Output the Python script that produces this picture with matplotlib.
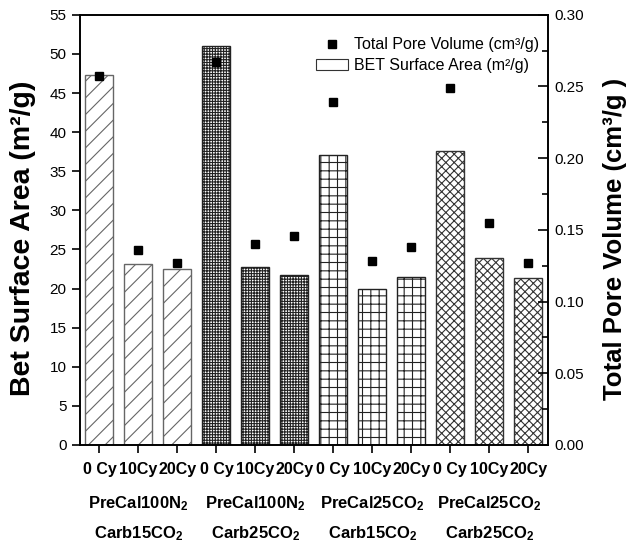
#!/usr/bin/env python3

import matplotlib
matplotlib.use("Agg")
import matplotlib.pyplot as plt
from matplotlib.patches import Patch
from matplotlib.lines import Line2D

plt.rcParams['font.family'] = ['Liberation Sans', 'DejaVu Sans']
plt.rcParams['mathtext.fontset'] = 'custom'
plt.rcParams['mathtext.rm'] = 'Liberation Sans:bold'
plt.rcParams['mathtext.bf'] = 'Liberation Sans:bold'
plt.rcParams['mathtext.default'] = 'rm'
plt.rcParams['hatch.linewidth'] = 0.8

cycles = ["0 Cy", "10Cy", "20Cy"] * 4
groups_top = ["PreCal100N$_2$", "PreCal100N$_2$", "PreCal25CO$_2$", "PreCal25CO$_2$"]
groups_bottom = ["Carb15CO$_2$", "Carb25CO$_2$", "Carb15CO$_2$", "Carb25CO$_2$"]

bet_area = [47.3, 23.1, 22.5, 51.0, 22.8, 21.7, 37.1, 20.0, 21.5, 37.6, 23.9, 21.3]
pore_vol = [0.257, 0.136, 0.127, 0.267, 0.140, 0.146, 0.239, 0.128, 0.138, 0.249, 0.155, 0.127]

hatches = ['//', '++++++', '++', 'xxxx']
edges = ['#666666', '#222222', '#222222', '#333333']

fig = plt.figure(figsize=(6.29, 5.48), dpi=100)
ax = fig.add_axes([0.127, 0.188, 0.744, 0.785])
ax2 = ax.twinx()

xs = list(range(1, len(bet_area) + 1))
for i, (x, v) in enumerate(zip(xs, bet_area)):
    g = i // 3
    ax.bar(x, v, width=0.72, facecolor='white', edgecolor=edges[g],
           hatch=hatches[g], linewidth=1.0)

ax2.plot(xs, pore_vol, 's', color='black', ms=6, linestyle='none')

ax.set_xlim(0.5, 12.5)
ax.set_ylim(0, 55)
ax2.set_ylim(0, 0.30)

ax.set_yticks(range(0, 56, 5))
ax.tick_params(axis='y', direction='out', length=6, width=1.2, labelsize=11)
ax.set_xticks(xs)
ax.set_xticklabels(cycles, fontweight='bold', fontsize=11.5)
ax.tick_params(axis='x', direction='out', length=6, width=1.2, pad=6)

ax2.set_yticks([0.00, 0.05, 0.10, 0.15, 0.20, 0.25, 0.30])
ax2.set_yticklabels(['0.00', '0.05', '0.10', '0.15', '0.20', '0.25', '0.30'])
ax2.set_yticks([0.025, 0.075, 0.125, 0.175, 0.225, 0.275], minor=True)
ax2.tick_params(axis='y', which='major', direction='in', length=7, width=1.2, labelsize=11, pad=5)
ax2.tick_params(axis='y', which='minor', direction='in', length=4, width=1.2)

for a in (ax, ax2):
    for s in a.spines.values():
        s.set_linewidth(1.2)

ax.set_ylabel("Bet Surface Area (m²/g)", fontsize=20.5, fontweight='bold')
ax.yaxis.set_label_coords(-0.094, 0.48)
ax2.set_ylabel("Total Pore Volume (cm³/g )", fontsize=18.5, fontweight='bold')
ax2.yaxis.set_label_coords(1.118, 0.48)

# two-line group captions under each set of three bars
trans = ax.get_xaxis_transform()
for g in range(4):
    xc = xs[g * 3 + 1]
    ax.text(xc, -0.137, groups_top[g], transform=trans, ha='center', va='center',
            fontsize=12, fontweight='bold')
    ax.text(xc, -0.207, groups_bottom[g], transform=trans, ha='center', va='center',
            fontsize=12, fontweight='bold')

handles = [
    Line2D([], [], marker='s', color='black', linestyle='none', ms=6),
    Patch(facecolor='white', edgecolor='#333333', linewidth=0.8),
]
labels = ["Total Pore Volume (cm³/g)", "BET Surface Area (m²/g)"]
ax2.legend(handles, labels, loc='upper right', frameon=False, fontsize=11.5,
           handlelength=2.0, handletextpad=0.4, borderaxespad=1.0, labelspacing=0.35,
           bbox_to_anchor=(1.03, 1.0))

fig.savefig("out.png", dpi=100)
